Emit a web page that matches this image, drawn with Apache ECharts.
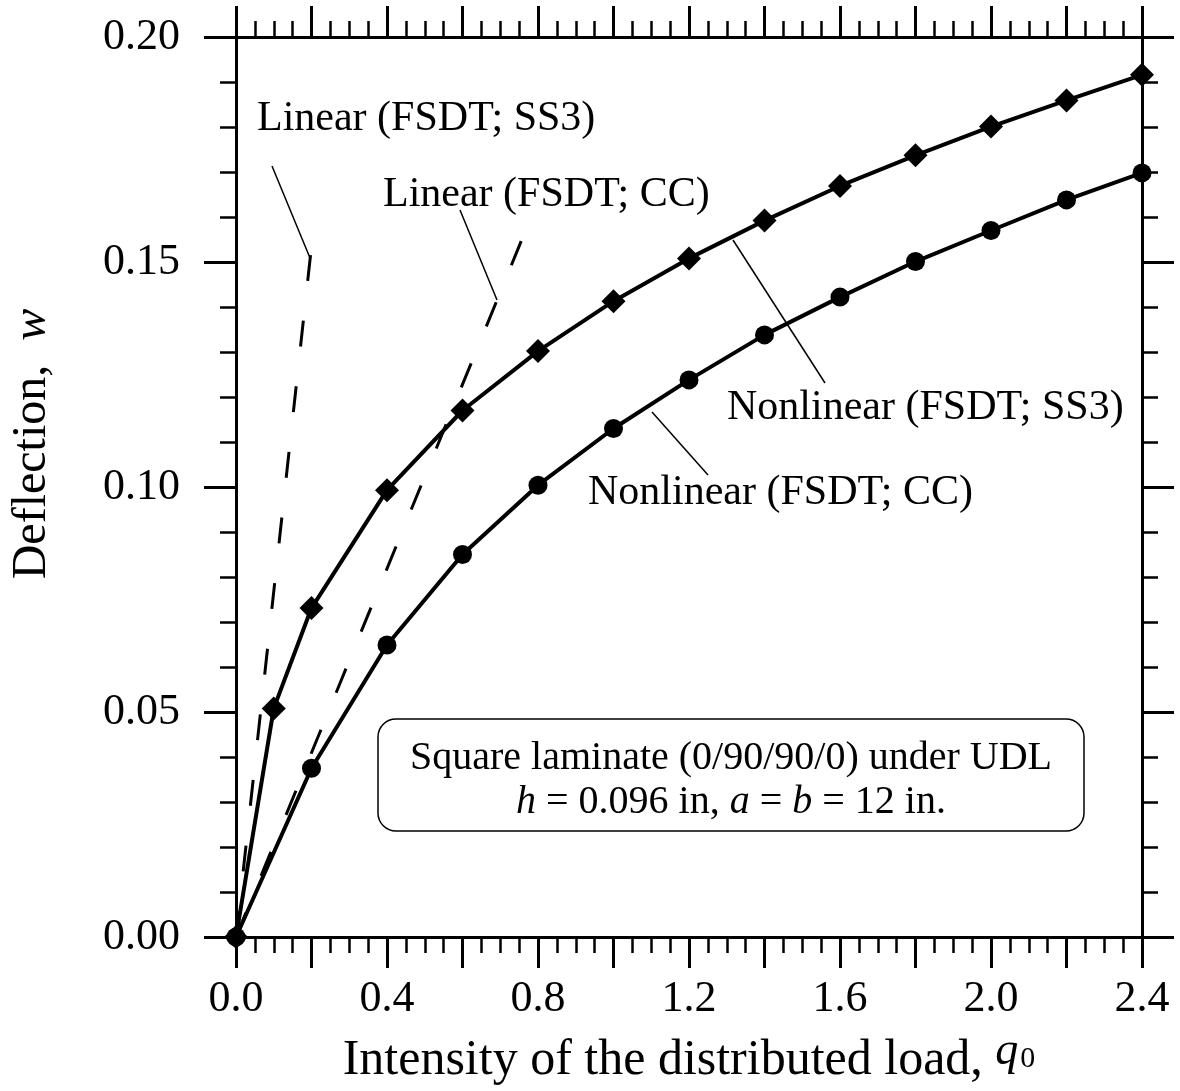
<!DOCTYPE html>
<html>
<head>
<meta charset="utf-8">
<script src="https://cdn.jsdelivr.net/npm/echarts@6/dist/echarts.min.js"></script>
<style>
  html, body { margin: 0; background: #fff; }
  #chart { width: 1180px; height: 1091px; }
</style>
</head>
<body>
<div id="chart"></div>
<script>
// load intensity q0 where the nonlinear points were computed
var loadSS3 = [0, 0.1, 0.2, 0.4, 0.6, 0.8, 1.0, 1.2, 1.4, 1.6, 1.8, 2.0, 2.2, 2.4];
var defSS3 = [0, 0.0508, 0.0731, 0.0993, 0.117, 0.1302, 0.1413, 0.1508, 0.1592, 0.1669, 0.1737, 0.1801, 0.1859, 0.1916];

var loadCC = [0, 0.2, 0.4, 0.6, 0.8, 1.0, 1.2, 1.4, 1.6, 1.8, 2.0, 2.2, 2.4];
var defCC = [0, 0.0375, 0.0649, 0.085, 0.1004, 0.113, 0.1238, 0.1338, 0.1422, 0.1501, 0.157, 0.1638, 0.1698];

// linear solutions (straight lines, two end points each)
var linLoadSS3 = [0, 0.198];
var linDefSS3 = [0, 0.152];
var linLoadCC = [0, 0.771];
var linDefCC = [0, 0.1578];

var xTicks = ['0.0', '0.4', '0.8', '1.2', '1.6', '2.0', '2.4'];

function pairs(xs, ys) {
  return xs.map(function (x, i) { return [x, ys[i]]; });
}

var FONT = '"Liberation Serif", "Times New Roman", serif';
var black = '#000';

function xAxisCfg(pos, labels) {
  return {
    type: 'value',
    position: pos,
    min: 0,
    max: 2.4,
    interval: 0.2,
    axisLine: { onZero: false, lineStyle: { color: black, width: 3 } },
    axisTick: { show: true, inside: false, length: 31, lineStyle: { color: black, width: 3 } },
    minorTick: { show: true, splitNumber: 4, length: 16, lineStyle: { color: black, width: 2.5 } },
    splitLine: { show: false },
    axisLabel: {
      show: labels,
      margin: 40,
      color: black,
      fontFamily: FONT,
      fontSize: 44,
      formatter: function (v) {
        var s = v.toFixed(1);
        return xTicks.indexOf(s) >= 0 ? s : '';
      }
    }
  };
}

function yAxisCfg(pos, labels) {
  return {
    type: 'value',
    position: pos,
    min: 0,
    max: 0.2,
    interval: 0.05,
    axisLine: { onZero: false, lineStyle: { color: black, width: 3 } },
    axisTick: { show: true, inside: false, length: 32, lineStyle: { color: black, width: 3 } },
    minorTick: { show: true, splitNumber: 5, length: 16, lineStyle: { color: black, width: 2.5 } },
    splitLine: { show: false },
    axisLabel: {
      show: labels,
      margin: 56,
      color: black,
      fontFamily: FONT,
      fontSize: 44,
      formatter: function (v) { return v.toFixed(2); }
    }
  };
}

var xBottom = xAxisCfg('bottom', true);
xBottom.name = '{n|Intensity of the distributed load, }{q|q}{s|0}';
xBottom.nameLocation = 'middle';
xBottom.nameGap = 92;
xBottom.nameTextStyle = {
  color: black,
  fontFamily: FONT,
  fontSize: 50,
  rich: {
    n: { fontFamily: FONT, fontSize: 50, color: black },
    q: { fontFamily: FONT, fontSize: 46, fontStyle: 'italic', color: black, padding: [0, 0, 18, 0] },
    s: { fontFamily: FONT, fontSize: 30, color: black, padding: [0, 0, 4, 2] }
  }
};

var yLeft = yAxisCfg('left', true);
yLeft.name = '{n|Deflection,  }{w|w}';
yLeft.nameLocation = 'middle';
yLeft.nameGap = 180;
yLeft.nameTextStyle = {
  color: black,
  fontFamily: FONT,
  fontSize: 48,
  padding: [0, 0, 0, 86],
  rich: {
    n: { fontFamily: FONT, fontSize: 48, color: black },
    w: { fontFamily: FONT, fontSize: 48, fontStyle: 'italic', color: black }
  }
};

var chart = echarts.init(document.getElementById('chart'), null, { renderer: 'canvas' });

var option = {
  backgroundColor: '#fff',
  animation: false,
  grid: { left: 236, top: 37, width: 906, height: 906, containLabel: false },
  xAxis: [xBottom, xAxisCfg('top', false)],
  yAxis: [yLeft, yAxisCfg('right', false)],
  series: [
    {
      name: 'Linear (FSDT; SS3)',
      type: 'line',
      data: pairs(linLoadSS3, linDefSS3),
      symbol: 'none',
      lineStyle: { color: black, width: 3, type: [26, 40] }
    },
    {
      name: 'Linear (FSDT; CC)',
      type: 'line',
      data: pairs(linLoadCC, linDefCC),
      symbol: 'none',
      lineStyle: { color: black, width: 3, type: [26, 40] }
    },
    {
      name: 'Nonlinear (FSDT; SS3)',
      type: 'line',
      data: pairs(loadSS3, defSS3),
      symbol: 'diamond',
      symbolSize: 24,
      lineStyle: { color: black, width: 4 },
      itemStyle: { color: black }
    },
    {
      name: 'Nonlinear (FSDT; CC)',
      type: 'line',
      data: pairs(loadCC, defCC),
      symbol: 'circle',
      symbolSize: 19,
      lineStyle: { color: black, width: 4 },
      itemStyle: { color: black }
    }
  ],
  graphic: [
    // curve labels and their leader lines
    { type: 'text', style: { text: 'Linear (FSDT; SS3)', x: 257, y: 119, font: '42px ' + FONT, fill: black, verticalAlign: 'middle' } },
    { type: 'line', shape: { x1: 272, y1: 166, x2: 310, y2: 258 }, style: { stroke: black, lineWidth: 1.5 } },
    { type: 'text', style: { text: 'Linear (FSDT; CC)', x: 383, y: 195, font: '42px ' + FONT, fill: black, verticalAlign: 'middle' } },
    { type: 'line', shape: { x1: 460, y1: 210, x2: 497, y2: 300 }, style: { stroke: black, lineWidth: 1.5 } },
    { type: 'text', style: { text: 'Nonlinear (FSDT; SS3)', x: 727, y: 408, font: '42px ' + FONT, fill: black, verticalAlign: 'middle' } },
    { type: 'line', shape: { x1: 733, y1: 240, x2: 825, y2: 383 }, style: { stroke: black, lineWidth: 1.5 } },
    { type: 'text', style: { text: 'Nonlinear (FSDT; CC)', x: 588, y: 493, font: '42px ' + FONT, fill: black, verticalAlign: 'middle' } },
    { type: 'line', shape: { x1: 652, y1: 412, x2: 708, y2: 475 }, style: { stroke: black, lineWidth: 1.5 } },
    // info box
    { type: 'rect', shape: { x: 378, y: 719, width: 706, height: 112, r: 18 }, style: { fill: '#fff', stroke: black, lineWidth: 1.5 } },
    { type: 'text', style: { text: 'Square laminate (0/90/90/0) under UDL', x: 731, y: 758, font: '40px ' + FONT, fill: black, align: 'center', verticalAlign: 'middle' } },
    {
      type: 'text',
      style: {
        text: '{i|h} = 0.096 in, {i|a} = {i|b} = 12 in.',
        x: 731, y: 802, align: 'center', verticalAlign: 'middle',
        font: '40px ' + FONT, fill: black,
        rich: { i: { fontStyle: 'italic', fontFamily: FONT, fontSize: 40, fill: black } }
      }
    }
  ]
};

chart.setOption(option);
</script>
</body>
</html>
